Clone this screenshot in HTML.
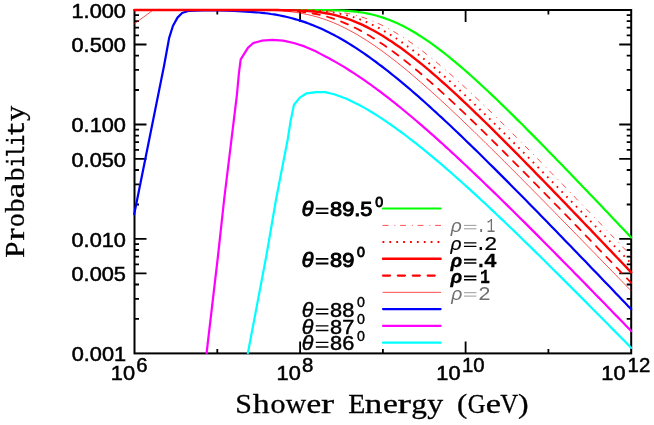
<!DOCTYPE html>
<html><head><meta charset="utf-8"><title>Probability vs Shower Energy</title>
<style>
html,body{margin:0;padding:0;background:#fff;}
body{width:654px;height:425px;overflow:hidden;font-family:"Liberation Sans",sans-serif;}
svg{display:block;will-change:transform;}
.ax{stroke:#000;stroke-width:2;fill:none;stroke-linecap:butt;}
.tk{stroke:#000;stroke-width:1.8;fill:none;}
.c{fill:none;stroke-linejoin:round;stroke-linecap:round;}
.tl{font-family:"Liberation Sans",sans-serif;font-size:20px;fill:#000;}
.lg{font-family:"Liberation Sans",sans-serif;font-weight:bold;font-size:18.5px;fill:#000;}
.mono{font-family:"Liberation Mono",monospace;fill:#000;}
</style></head><body>
<svg width="654" height="425" viewBox="0 0 654 425">
<rect x="0" y="0" width="654" height="425" fill="#fff"/>

<rect class="ax" x="134.5" y="10.0" width="496.7" height="343.4"/>
<path class="tk" d="M217.3,353.4 v-4.5 M217.3,10.0 v4.5 M300.1,353.4 v-12 M300.1,10.0 v12 M382.9,353.4 v-4.5 M382.9,10.0 v4.5 M465.6,353.4 v-12 M465.6,10.0 v12 M548.4,353.4 v-4.5 M548.4,10.0 v4.5 M134.5,15.2 h4.5 M631.2,15.2 h-4.5 M134.5,21.1 h4.5 M631.2,21.1 h-4.5 M134.5,27.7 h4.5 M631.2,27.7 h-4.5 M134.5,35.4 h4.5 M631.2,35.4 h-4.5 M134.5,44.5 h12 M631.2,44.5 h-12 M134.5,55.6 h4.5 M631.2,55.6 h-4.5 M134.5,69.9 h4.5 M631.2,69.9 h-4.5 M134.5,90.0 h4.5 M631.2,90.0 h-4.5 M134.5,124.5 h12 M631.2,124.5 h-12 M134.5,129.7 h4.5 M631.2,129.7 h-4.5 M134.5,135.6 h4.5 M631.2,135.6 h-4.5 M134.5,142.2 h4.5 M631.2,142.2 h-4.5 M134.5,149.9 h4.5 M631.2,149.9 h-4.5 M134.5,158.9 h12 M631.2,158.9 h-12 M134.5,170.0 h4.5 M631.2,170.0 h-4.5 M134.5,184.3 h4.5 M631.2,184.3 h-4.5 M134.5,204.5 h4.5 M631.2,204.5 h-4.5 M134.5,238.9 h12 M631.2,238.9 h-12 M134.5,244.2 h4.5 M631.2,244.2 h-4.5 M134.5,250.0 h4.5 M631.2,250.0 h-4.5 M134.5,256.7 h4.5 M631.2,256.7 h-4.5 M134.5,264.3 h4.5 M631.2,264.3 h-4.5 M134.5,273.4 h12 M631.2,273.4 h-12 M134.5,284.5 h4.5 M631.2,284.5 h-4.5 M134.5,298.8 h4.5 M631.2,298.8 h-4.5 M134.5,318.9 h4.5 M631.2,318.9 h-4.5"/>
<path class="c" d="M134.5,10.0 L290.0,10.0 L293.0,10.0 L296.0,10.0 L299.0,10.0 L302.0,10.0 L305.0,10.0 L308.0,10.0 L311.0,10.0 L314.0,10.0 L317.0,10.0 L320.0,10.0 L323.0,10.1 L326.0,10.1 L329.0,10.1 L332.0,10.2 L335.0,10.3 L338.0,10.4 L341.0,10.5 L344.0,10.6 L347.0,10.8 L350.0,11.1 L353.0,11.4 L356.0,11.7 L359.0,12.1 L362.0,12.5 L365.0,13.0 L368.0,13.6 L371.0,14.3 L374.0,15.0 L377.0,15.8 L380.0,16.7 L383.0,17.6 L386.0,18.7 L389.0,19.8 L392.0,21.0 L395.0,22.3 L398.0,23.6 L401.0,25.0 L404.0,26.5 L407.0,28.1 L410.0,29.8 L413.0,31.5 L416.0,33.3 L419.0,35.2 L422.0,37.1 L425.0,39.1 L428.0,41.1 L431.0,43.2 L434.0,45.4 L437.0,47.6 L440.0,49.8 L443.0,52.2 L446.0,54.5 L449.0,56.9 L452.0,59.4 L455.0,61.8 L458.0,64.4 L461.0,66.9 L464.0,69.5 L467.0,72.1 L470.0,74.8 L473.0,77.5 L476.0,80.2 L479.0,82.9 L482.0,85.7 L485.0,88.5 L488.0,91.3 L491.0,94.1 L494.0,96.9 L497.0,99.8 L500.0,102.7 L503.0,105.6 L506.0,108.5 L509.0,111.5 L512.0,114.4 L515.0,117.4 L518.0,120.4 L521.0,123.3 L524.0,126.3 L527.0,129.4 L530.0,132.4 L533.0,135.4 L536.0,138.4 L539.0,141.5 L542.0,144.5 L545.0,147.6 L548.0,150.7 L551.0,153.7 L554.0,156.8 L557.0,159.9 L560.0,163.0 L563.0,166.1 L566.0,169.2 L569.0,172.3 L572.0,175.4 L575.0,178.6 L578.0,181.7 L581.0,184.8 L584.0,187.9 L587.0,191.1 L590.0,194.2 L593.0,197.3 L596.0,200.5 L599.0,203.6 L602.0,206.8 L605.0,209.9 L608.0,213.1 L611.0,216.2 L614.0,219.4 L617.0,222.5 L620.0,225.7 L623.0,228.8 L626.0,232.0 L629.0,235.2 L631.2,237.5" stroke="#00ff00" stroke-width="2.2" />
<path class="c" d="M247.9,353.0 L266.5,255.0 L276.1,199.0 L287.6,140.0 L290.6,120.9 L294.0,104.8 L299.8,97.6 L306.7,93.3 L315.9,92.1 L325.0,92.1 L334.2,94.3 L346.5,98.7 L358.7,104.8 L365.0,108.1 L368.0,109.9 L371.0,111.7 L374.0,113.5 L377.0,115.4 L380.0,117.4 L383.0,119.3 L386.0,121.3 L389.0,123.4 L392.0,125.5 L395.0,127.6 L398.0,129.8 L401.0,132.0 L404.0,134.2 L407.0,136.5 L410.0,138.8 L413.0,141.1 L416.0,143.4 L419.0,145.8 L422.0,148.2 L425.0,150.6 L428.0,153.1 L431.0,155.6 L434.0,158.1 L437.0,160.6 L440.0,163.1 L443.0,165.7 L446.0,168.3 L449.0,170.9 L452.0,173.5 L455.0,176.2 L458.0,178.8 L461.0,181.5 L464.0,184.2 L467.0,186.9 L470.0,189.6 L473.0,192.4 L476.0,195.1 L479.0,197.9 L482.0,200.7 L485.0,203.4 L488.0,206.2 L491.0,209.1 L494.0,211.9 L497.0,214.7 L500.0,217.6 L503.0,220.4 L506.0,223.3 L509.0,226.2 L512.0,229.0 L515.0,231.9 L518.0,234.8 L521.0,237.7 L524.0,240.7 L527.0,243.6 L530.0,246.5 L533.0,249.4 L536.0,252.4 L539.0,255.3 L542.0,258.3 L545.0,261.2 L548.0,264.2 L551.0,267.2 L554.0,270.2 L557.0,273.1 L560.0,276.1 L563.0,279.1 L566.0,282.1 L569.0,285.1 L572.0,288.1 L575.0,291.1 L578.0,294.1 L581.0,297.1 L584.0,300.1 L587.0,303.1 L590.0,306.2 L593.0,309.2 L596.0,312.2 L599.0,315.2 L602.0,318.3 L605.0,321.3 L608.0,324.3 L611.0,327.4 L614.0,330.4 L617.0,333.5 L620.0,336.5 L623.0,339.5 L626.0,342.6 L629.0,345.6 L631.2,347.9" stroke="#00ffff" stroke-width="2.2" />
<path class="c" d="M206.6,353.0 L218.1,255.0 L224.2,199.0 L236.9,95.0 L238.9,73.4 L240.7,59.4 L247.9,47.9 L253.3,43.0 L261.7,40.7 L272.4,39.8 L283.1,40.6 L293.8,43.0 L304.5,46.4 L315.2,51.0 L320.0,53.6 L326.0,56.8 L329.0,58.3 L332.0,60.0 L335.0,61.6 L338.0,63.4 L341.0,65.1 L344.0,66.9 L347.0,68.8 L350.0,70.7 L353.0,72.6 L356.0,74.6 L359.0,76.6 L362.0,78.6 L365.0,80.7 L368.0,82.8 L371.0,84.9 L374.0,87.1 L377.0,89.3 L380.0,91.5 L383.0,93.8 L386.0,96.1 L389.0,98.4 L392.0,100.8 L395.0,103.2 L398.0,105.6 L401.0,108.0 L404.0,110.5 L407.0,113.0 L410.0,115.5 L413.0,118.0 L416.0,120.5 L419.0,123.1 L422.0,125.7 L425.0,128.3 L428.0,130.9 L431.0,133.6 L434.0,136.2 L437.0,138.9 L440.0,141.6 L443.0,144.3 L446.0,147.1 L449.0,149.8 L452.0,152.6 L455.0,155.3 L458.0,158.1 L461.0,160.9 L464.0,163.7 L467.0,166.5 L470.0,169.4 L473.0,172.2 L476.0,175.1 L479.0,177.9 L482.0,180.8 L485.0,183.7 L488.0,186.6 L491.0,189.5 L494.0,192.4 L497.0,195.3 L500.0,198.3 L503.0,201.2 L506.0,204.1 L509.0,207.1 L512.0,210.0 L515.0,213.0 L518.0,216.0 L521.0,219.0 L524.0,221.9 L527.0,224.9 L530.0,227.9 L533.0,230.9 L536.0,233.9 L539.0,236.9 L542.0,240.0 L545.0,243.0 L548.0,246.0 L551.0,249.0 L554.0,252.1 L557.0,255.1 L560.0,258.1 L563.0,261.2 L566.0,264.2 L569.0,267.3 L572.0,270.3 L575.0,273.4 L578.0,276.4 L581.0,279.5 L584.0,282.6 L587.0,285.6 L590.0,288.7 L593.0,291.8 L596.0,294.9 L599.0,297.9 L602.0,301.0 L605.0,304.1 L608.0,307.2 L611.0,310.3 L614.0,313.4 L617.0,316.4 L620.0,319.5 L623.0,322.6 L626.0,325.7 L629.0,328.8 L631.2,331.1" stroke="#ff00ff" stroke-width="2.2" />
<path class="c" d="M134.2,214.2 L164.2,65.0 L169.1,38.2 L172.9,26.0 L177.5,17.6 L182.1,13.0 L188.2,11.0 L203.5,10.4 L218.8,10.4 L234.1,11.0 L250.0,11.9 L256.0,12.3 L259.0,12.5 L262.0,12.8 L265.0,13.2 L268.0,13.5 L271.0,14.0 L274.0,14.4 L277.0,14.9 L280.0,15.5 L283.0,16.1 L286.0,16.8 L289.0,17.5 L292.0,18.2 L295.0,19.1 L298.0,20.0 L301.0,20.9 L304.0,21.9 L307.0,22.9 L310.0,24.1 L313.0,25.2 L316.0,26.5 L319.0,27.7 L322.0,29.1 L325.0,30.5 L328.0,31.9 L331.0,33.5 L334.0,35.0 L337.0,36.6 L340.0,38.3 L343.0,40.0 L346.0,41.8 L349.0,43.6 L352.0,45.5 L355.0,47.4 L358.0,49.4 L361.0,51.4 L364.0,53.4 L367.0,55.5 L370.0,57.6 L373.0,59.8 L376.0,62.0 L379.0,64.3 L382.0,66.5 L385.0,68.8 L388.0,71.2 L391.0,73.6 L394.0,76.0 L397.0,78.4 L400.0,80.9 L403.0,83.4 L406.0,85.9 L409.0,88.4 L412.0,91.0 L415.0,93.6 L418.0,96.2 L421.0,98.9 L424.0,101.5 L427.0,104.2 L430.0,106.9 L433.0,109.7 L436.0,112.4 L439.0,115.2 L442.0,117.9 L445.0,120.7 L448.0,123.5 L451.0,126.3 L454.0,129.2 L457.0,132.0 L460.0,134.9 L463.0,137.8 L466.0,140.7 L469.0,143.6 L472.0,146.5 L475.0,149.4 L478.0,152.3 L481.0,155.3 L484.0,158.2 L487.0,161.2 L490.0,164.2 L493.0,167.1 L496.0,170.1 L499.0,173.1 L502.0,176.1 L505.0,179.1 L508.0,182.1 L511.0,185.2 L514.0,188.2 L517.0,191.2 L520.0,194.3 L523.0,197.3 L526.0,200.3 L529.0,203.4 L532.0,206.5 L535.0,209.5 L538.0,212.6 L541.0,215.7 L544.0,218.7 L547.0,221.8 L550.0,224.9 L553.0,228.0 L556.0,231.1 L559.0,234.2 L562.0,237.3 L565.0,240.4 L568.0,243.5 L571.0,246.6 L574.0,249.7 L577.0,252.8 L580.0,255.9 L583.0,259.0 L586.0,262.1 L589.0,265.3 L592.0,268.4 L595.0,271.5 L598.0,274.6 L601.0,277.7 L604.0,280.9 L607.0,284.0 L610.0,287.1 L613.0,290.3 L616.0,293.4 L619.0,296.5 L622.0,299.7 L625.0,302.8 L628.0,306.0 L631.0,309.1 L631.2,309.3" stroke="#0000ff" stroke-width="2.2" />
<path class="c" d="M134.5,23.7 L153.2,10.0 L240.0,10.0 L243.0,10.0 L246.0,10.0 L249.0,10.0 L252.0,10.1 L255.0,10.1 L258.0,10.1 L261.0,10.1 L264.0,10.2 L267.0,10.3 L270.0,10.4 L273.0,10.5 L276.0,10.6 L279.0,10.8 L282.0,11.0 L285.0,11.2 L288.0,11.5 L291.0,11.8 L294.0,12.2 L297.0,12.6 L300.0,13.1 L303.0,13.6 L306.0,14.2 L309.0,14.9 L312.0,15.6 L315.0,16.4 L318.0,17.2 L321.0,18.2 L324.0,19.1 L327.0,20.2 L330.0,21.3 L333.0,22.5 L336.0,23.8 L339.0,25.1 L342.0,26.6 L345.0,28.0 L348.0,29.6 L351.0,31.2 L354.0,32.8 L357.0,34.5 L360.0,36.3 L363.0,38.2 L366.0,40.0 L369.0,42.0 L372.0,44.0 L375.0,46.0 L378.0,48.1 L381.0,50.3 L384.0,52.4 L387.0,54.7 L390.0,56.9 L393.0,59.3 L396.0,61.6 L399.0,64.0 L402.0,66.4 L405.0,68.8 L408.0,71.3 L411.0,73.8 L414.0,76.4 L417.0,79.0 L420.0,81.6 L423.0,84.2 L426.0,86.8 L429.0,89.5 L432.0,92.2 L435.0,94.9 L438.0,97.6 L441.0,100.4 L444.0,103.1 L447.0,105.9 L450.0,108.7 L453.0,111.5 L456.0,114.4 L459.0,117.2 L462.0,120.1 L465.0,123.0 L468.0,125.8 L471.0,128.7 L474.0,131.6 L477.0,134.6 L480.0,137.5 L483.0,140.4 L486.0,143.4 L489.0,146.3 L492.0,149.3 L495.0,152.2 L498.0,155.2 L501.0,158.2 L504.0,161.2 L507.0,164.2 L510.0,167.2 L513.0,170.2 L516.0,173.2 L519.0,176.2 L522.0,179.2 L525.0,182.3 L528.0,185.3 L531.0,188.3 L534.0,191.4 L537.0,194.4 L540.0,197.4 L543.0,200.5 L546.0,203.5 L549.0,206.6 L552.0,209.6 L555.0,212.7 L558.0,215.8 L561.0,218.8 L564.0,221.9 L567.0,225.0 L570.0,228.0 L573.0,231.1 L576.0,234.2 L579.0,237.2 L582.0,240.3 L585.0,243.4 L588.0,246.5 L591.0,249.6 L594.0,252.6 L597.0,255.7 L600.0,258.8 L603.0,261.9 L606.0,265.0 L609.0,268.1 L612.0,271.2 L615.0,274.2 L618.0,277.3 L621.0,280.4 L624.0,283.5 L627.0,286.6 L630.0,289.7 L631.2,290.9" stroke="#ff0000" stroke-width="0.7" />
<path class="c" d="M134.5,10.0 L275.0,10.0 L278.0,10.0 L281.0,10.0 L284.0,10.0 L287.0,10.0 L290.0,10.0 L293.0,10.0 L296.0,10.0 L299.0,10.0 L302.0,10.1 L305.0,10.1 L308.0,10.1 L311.0,10.2 L314.0,10.2 L317.0,10.3 L320.0,10.4 L323.0,10.6 L326.0,10.7 L329.0,11.0 L332.0,11.2 L335.0,11.5 L338.0,11.9 L341.0,12.3 L344.0,12.8 L347.0,13.3 L350.0,13.9 L353.0,14.6 L356.0,15.4 L359.0,16.2 L362.0,17.1 L365.0,18.1 L368.0,19.2 L371.0,20.3 L374.0,21.6 L377.0,22.9 L380.0,24.3 L383.0,25.7 L386.0,27.3 L389.0,28.9 L392.0,30.5 L395.0,32.3 L398.0,34.1 L401.0,36.0 L404.0,37.9 L407.0,39.9 L410.0,42.0 L413.0,44.1 L416.0,46.2 L419.0,48.5 L422.0,50.7 L425.0,53.0 L428.0,55.4 L431.0,57.8 L434.0,60.2 L437.0,62.7 L440.0,65.2 L443.0,67.8 L446.0,70.4 L449.0,73.0 L452.0,75.6 L455.0,78.3 L458.0,81.0 L461.0,83.7 L464.0,86.5 L467.0,89.2 L470.0,92.0 L473.0,94.8 L476.0,97.7 L479.0,100.5 L482.0,103.4 L485.0,106.3 L488.0,109.2 L491.0,112.1 L494.0,115.0 L497.0,118.0 L500.0,120.9 L503.0,123.9 L506.0,126.9 L509.0,129.9 L512.0,132.8 L515.0,135.9 L518.0,138.9 L521.0,141.9 L524.0,144.9 L527.0,148.0 L530.0,151.0 L533.0,154.0 L536.0,157.1 L539.0,160.2 L542.0,163.2 L545.0,166.3 L548.0,169.4 L551.0,172.5 L554.0,175.6 L557.0,178.6 L560.0,181.7 L563.0,184.8 L566.0,187.9 L569.0,191.0 L572.0,194.1 L575.0,197.3 L578.0,200.4 L581.0,203.5 L584.0,206.6 L587.0,209.7 L590.0,212.8 L593.0,216.0 L596.0,219.1 L599.0,222.2 L602.0,225.3 L605.0,228.5 L608.0,231.6 L611.0,234.7 L614.0,237.9 L617.0,241.0 L620.0,244.1 L623.0,247.3 L626.0,250.4 L629.0,253.6 L631.2,255.9" stroke="#ff0000" stroke-width="0.7" stroke-dasharray="5.9 5.9 0.9 4.807" style="stroke-linecap:butt"/>
<path class="c" d="M134.5,10.0 L270.0,10.0 L273.0,10.0 L276.0,10.0 L279.0,10.0 L282.0,10.0 L285.0,10.0 L288.0,10.0 L291.0,10.0 L294.0,10.1 L297.0,10.1 L300.0,10.1 L303.0,10.2 L306.0,10.2 L309.0,10.3 L312.0,10.5 L315.0,10.6 L318.0,10.8 L321.0,11.0 L324.0,11.3 L327.0,11.6 L330.0,12.0 L333.0,12.4 L336.0,12.9 L339.0,13.5 L342.0,14.1 L345.0,14.8 L348.0,15.6 L351.0,16.4 L354.0,17.3 L357.0,18.4 L360.0,19.4 L363.0,20.6 L366.0,21.9 L369.0,23.2 L372.0,24.6 L375.0,26.1 L378.0,27.6 L381.0,29.2 L384.0,30.9 L387.0,32.7 L390.0,34.5 L393.0,36.4 L396.0,38.3 L399.0,40.3 L402.0,42.4 L405.0,44.5 L408.0,46.7 L411.0,48.9 L414.0,51.2 L417.0,53.5 L420.0,55.9 L423.0,58.3 L426.0,60.7 L429.0,63.2 L432.0,65.7 L435.0,68.2 L438.0,70.8 L441.0,73.4 L444.0,76.0 L447.0,78.7 L450.0,81.4 L453.0,84.1 L456.0,86.9 L459.0,89.6 L462.0,92.4 L465.0,95.2 L468.0,98.0 L471.0,100.9 L474.0,103.7 L477.0,106.6 L480.0,109.5 L483.0,112.4 L486.0,115.3 L489.0,118.2 L492.0,121.1 L495.0,124.1 L498.0,127.1 L501.0,130.0 L504.0,133.0 L507.0,136.0 L510.0,139.0 L513.0,142.0 L516.0,145.0 L519.0,148.0 L522.0,151.0 L525.0,154.1 L528.0,157.1 L531.0,160.1 L534.0,163.2 L537.0,166.2 L540.0,169.3 L543.0,172.4 L546.0,175.4 L549.0,178.5 L552.0,181.6 L555.0,184.6 L558.0,187.7 L561.0,190.8 L564.0,193.9 L567.0,197.0 L570.0,200.0 L573.0,203.1 L576.0,206.2 L579.0,209.3 L582.0,212.4 L585.0,215.5 L588.0,218.6 L591.0,221.7 L594.0,224.8 L597.0,227.9 L600.0,231.0 L603.0,234.2 L606.0,237.3 L609.0,240.4 L612.0,243.5 L615.0,246.6 L618.0,249.7 L621.0,252.8 L624.0,255.9 L627.0,259.1 L630.0,262.2 L631.2,263.4" stroke="#ff0000" stroke-width="1.9" stroke-dasharray="1.7 5.153" stroke-dashoffset="0.29" style="stroke-linecap:butt"/>
<path class="c" d="M134.5,10.0 L250.0,10.0 L253.0,10.0 L256.0,10.0 L259.0,10.0 L262.0,10.0 L265.0,10.1 L268.0,10.1 L271.0,10.1 L274.0,10.2 L277.0,10.2 L280.0,10.3 L283.0,10.4 L286.0,10.6 L289.0,10.7 L292.0,10.9 L295.0,11.1 L298.0,11.4 L301.0,11.7 L304.0,12.1 L307.0,12.5 L310.0,12.9 L313.0,13.5 L316.0,14.0 L319.0,14.7 L322.0,15.4 L325.0,16.2 L328.0,17.0 L331.0,17.9 L334.0,18.9 L337.0,20.0 L340.0,21.1 L343.0,22.3 L346.0,23.6 L349.0,24.9 L352.0,26.3 L355.0,27.8 L358.0,29.3 L361.0,30.9 L364.0,32.6 L367.0,34.3 L370.0,36.1 L373.0,37.9 L376.0,39.8 L379.0,41.8 L382.0,43.8 L385.0,45.8 L388.0,47.9 L391.0,50.1 L394.0,52.3 L397.0,54.5 L400.0,56.8 L403.0,59.1 L406.0,61.5 L409.0,63.9 L412.0,66.3 L415.0,68.8 L418.0,71.3 L421.0,73.8 L424.0,76.4 L427.0,79.0 L430.0,81.6 L433.0,84.3 L436.0,86.9 L439.0,89.6 L442.0,92.4 L445.0,95.1 L448.0,97.8 L451.0,100.6 L454.0,103.4 L457.0,106.2 L460.0,109.1 L463.0,111.9 L466.0,114.8 L469.0,117.6 L472.0,120.5 L475.0,123.4 L478.0,126.3 L481.0,129.3 L484.0,132.2 L487.0,135.2 L490.0,138.1 L493.0,141.1 L496.0,144.0 L499.0,147.0 L502.0,150.0 L505.0,153.0 L508.0,156.0 L511.0,159.0 L514.0,162.1 L517.0,165.1 L520.0,168.1 L523.0,171.2 L526.0,174.2 L529.0,177.2 L532.0,180.3 L535.0,183.4 L538.0,186.4 L541.0,189.5 L544.0,192.6 L547.0,195.6 L550.0,198.7 L553.0,201.8 L556.0,204.9 L559.0,207.9 L562.0,211.0 L565.0,214.1 L568.0,217.2 L571.0,220.3 L574.0,223.4 L577.0,226.5 L580.0,229.6 L583.0,232.7 L586.0,235.8 L589.0,238.9 L592.0,242.0 L595.0,245.2 L598.0,248.3 L601.0,251.4 L604.0,254.5 L607.0,257.6 L610.0,260.7 L613.0,263.8 L616.0,267.0 L619.0,270.1 L622.0,273.2 L625.0,276.3 L628.0,279.5 L631.0,282.6 L631.2,282.8" stroke="#ff0000" stroke-width="1.8" stroke-dasharray="7.4 7.455"/>
<path class="c" d="M134.5,10.0 L260.0,10.0 L263.0,10.0 L266.0,10.0 L269.0,10.0 L272.0,10.0 L275.0,10.0 L278.0,10.0 L281.0,10.1 L284.0,10.1 L287.0,10.1 L290.0,10.2 L293.0,10.3 L296.0,10.4 L299.0,10.5 L302.0,10.6 L305.0,10.8 L308.0,11.0 L311.0,11.2 L314.0,11.5 L317.0,11.9 L320.0,12.3 L323.0,12.7 L326.0,13.2 L329.0,13.8 L332.0,14.4 L335.0,15.1 L338.0,15.9 L341.0,16.8 L344.0,17.7 L347.0,18.7 L350.0,19.7 L353.0,20.9 L356.0,22.1 L359.0,23.3 L362.0,24.7 L365.0,26.1 L368.0,27.6 L371.0,29.2 L374.0,30.8 L377.0,32.5 L380.0,34.2 L383.0,36.0 L386.0,37.9 L389.0,39.9 L392.0,41.8 L395.0,43.9 L398.0,46.0 L401.0,48.1 L404.0,50.3 L407.0,52.6 L410.0,54.9 L413.0,57.2 L416.0,59.6 L419.0,62.0 L422.0,64.4 L425.0,66.9 L428.0,69.4 L431.0,72.0 L434.0,74.6 L437.0,77.2 L440.0,79.8 L443.0,82.5 L446.0,85.2 L449.0,87.9 L452.0,90.6 L455.0,93.4 L458.0,96.2 L461.0,99.0 L464.0,101.8 L467.0,104.6 L470.0,107.5 L473.0,110.4 L476.0,113.3 L479.0,116.2 L482.0,119.1 L485.0,122.0 L488.0,124.9 L491.0,127.9 L494.0,130.9 L497.0,133.8 L500.0,136.8 L503.0,139.8 L506.0,142.8 L509.0,145.8 L512.0,148.9 L515.0,151.9 L518.0,154.9 L521.0,158.0 L524.0,161.0 L527.0,164.1 L530.0,167.1 L533.0,170.2 L536.0,173.3 L539.0,176.4 L542.0,179.4 L545.0,182.5 L548.0,185.6 L551.0,188.7 L554.0,191.8 L557.0,194.9 L560.0,198.0 L563.0,201.1 L566.0,204.2 L569.0,207.4 L572.0,210.5 L575.0,213.6 L578.0,216.7 L581.0,219.9 L584.0,223.0 L587.0,226.1 L590.0,229.2 L593.0,232.4 L596.0,235.5 L599.0,238.6 L602.0,241.8 L605.0,244.9 L608.0,248.1 L611.0,251.2 L614.0,254.3 L617.0,257.5 L620.0,260.6 L623.0,263.8 L626.0,266.9 L629.0,270.1 L631.2,272.4" stroke="#ff0000" stroke-width="2.4" />
<text font-family="Liberation Sans" font-size="19.8px" fill="#000" stroke="#000" stroke-width="0.5" transform="translate(71.48 17.90) scale(1.1 1.0)">1.000</text>
<text font-family="Liberation Sans" font-size="19.8px" fill="#000" stroke="#000" stroke-width="0.5" transform="translate(71.48 52.36) scale(1.1 1.0)">0.500</text>
<text font-family="Liberation Sans" font-size="19.8px" fill="#000" stroke="#000" stroke-width="0.5" transform="translate(71.48 132.37) scale(1.1 1.0)">0.100</text>
<text font-family="Liberation Sans" font-size="19.8px" fill="#000" stroke="#000" stroke-width="0.5" transform="translate(71.48 166.82) scale(1.1 1.0)">0.050</text>
<text font-family="Liberation Sans" font-size="19.8px" fill="#000" stroke="#000" stroke-width="0.5" transform="translate(71.48 246.83) scale(1.1 1.0)">0.010</text>
<text font-family="Liberation Sans" font-size="19.8px" fill="#000" stroke="#000" stroke-width="0.5" transform="translate(71.48 281.29) scale(1.1 1.0)">0.005</text>
<text font-family="Liberation Sans" font-size="19.8px" fill="#000" stroke="#000" stroke-width="0.5" transform="translate(71.70 361.30) scale(1.1 1.0)">0.001</text>
<text font-family="Liberation Sans" font-size="19.8px" fill="#000" stroke="#000" stroke-width="0.5" transform="translate(110.86 380.00) scale(1.1 1.0)">10</text>
<text font-family="Liberation Sans" font-size="19.8px" font-style="normal" font-weight="normal" fill="#000" stroke="#000" stroke-width="0.5" transform="translate(136.28 372.30) scale(1.03 1.0)">6</text>
<text font-family="Liberation Sans" font-size="19.8px" fill="#000" stroke="#000" stroke-width="0.5" transform="translate(276.56 380.00) scale(1.1 1.0)">10</text>
<text font-family="Liberation Sans" font-size="19.8px" font-style="normal" font-weight="normal" fill="#000" stroke="#000" stroke-width="0.5" transform="translate(301.88 372.30) scale(1.03 1.0)">8</text>
<text font-family="Liberation Sans" font-size="19.8px" fill="#000" stroke="#000" stroke-width="0.5" transform="translate(436.36 380.00) scale(1.1 1.0)">10</text>
<text font-family="Liberation Sans" font-size="19.8px" font-style="normal" font-weight="normal" fill="#000" stroke="#000" stroke-width="0.5" transform="translate(461.97 372.30) scale(1.03 1.0)">10</text>
<text font-family="Liberation Sans" font-size="19.8px" fill="#000" stroke="#000" stroke-width="0.5" transform="translate(601.36 380.00) scale(1.1 1.0)">10</text>
<text font-family="Liberation Sans" font-size="19.8px" font-style="normal" font-weight="normal" fill="#000" stroke="#000" stroke-width="0.5" transform="translate(627.57 372.30) scale(1.03 1.0)">12</text>
<text font-family="Liberation Serif" font-size="28.2px" font-weight="normal" fill="#000" stroke="#000" stroke-width="0.3" transform="translate(235.30 413.00) scale(1.064 1)">S</text>
<text font-family="Liberation Serif" font-size="28.2px" font-weight="normal" fill="#000" stroke="#000" stroke-width="0.3" transform="translate(252.80 413.00) scale(1.194 1)">h</text>
<text font-family="Liberation Serif" font-size="28.2px" font-weight="normal" fill="#000" stroke="#000" stroke-width="0.3" transform="translate(270.50 413.00) scale(1.064 1)">o</text>
<text font-family="Liberation Serif" font-size="28.2px" font-weight="normal" fill="#000" stroke="#000" stroke-width="0.3" transform="translate(285.80 413.00) scale(1.000 1)">w</text>
<text font-family="Liberation Serif" font-size="28.2px" font-weight="normal" fill="#000" stroke="#000" stroke-width="0.3" transform="translate(306.61 413.00) scale(1.176 1)">e</text>
<text font-family="Liberation Serif" font-size="28.2px" font-weight="normal" fill="#000" stroke="#000" stroke-width="0.3" transform="translate(321.01 413.00) scale(1.396 1)">r</text>
<text font-family="Liberation Serif" font-size="28.2px" font-weight="normal" fill="#000" stroke="#000" stroke-width="0.3" transform="translate(348.34 413.00) scale(0.993 1)">E</text>
<text font-family="Liberation Serif" font-size="28.2px" font-weight="normal" fill="#000" stroke="#000" stroke-width="0.3" transform="translate(364.80 413.00) scale(1.245 1)">n</text>
<text font-family="Liberation Serif" font-size="28.2px" font-weight="normal" fill="#000" stroke="#000" stroke-width="0.3" transform="translate(382.89 413.00) scale(1.194 1)">e</text>
<text font-family="Liberation Serif" font-size="28.2px" font-weight="normal" fill="#000" stroke="#000" stroke-width="0.3" transform="translate(397.39 413.00) scale(1.441 1)">r</text>
<text font-family="Liberation Serif" font-size="28.2px" font-weight="normal" fill="#000" stroke="#000" stroke-width="0.3" transform="translate(411.35 413.00) scale(1.111 1)">g</text>
<text font-family="Liberation Serif" font-size="28.2px" font-weight="normal" fill="#000" stroke="#000" stroke-width="0.3" transform="translate(427.28 413.00) scale(1.129 1)">y</text>
<text font-family="Liberation Serif" font-size="28.2px" font-weight="normal" fill="#000" stroke="#000" stroke-width="0.3" transform="translate(456.97 413.00) scale(1.090 1)">(</text>
<text font-family="Liberation Serif" font-size="28.2px" font-weight="normal" fill="#000" stroke="#000" stroke-width="0.3" transform="translate(467.72 413.00) scale(0.870 1)">G</text>
<text font-family="Liberation Serif" font-size="28.2px" font-weight="normal" fill="#000" stroke="#000" stroke-width="0.3" transform="translate(485.87 413.00) scale(1.222 1)">e</text>
<text font-family="Liberation Serif" font-size="28.2px" font-weight="normal" fill="#000" stroke="#000" stroke-width="0.3" transform="translate(500.35 413.00) scale(0.884 1)">V</text>
<text font-family="Liberation Serif" font-size="28.2px" font-weight="normal" fill="#000" stroke="#000" stroke-width="0.3" transform="translate(517.94 413.00) scale(1.132 1)">)</text>
<g transform="translate(23.8 0) rotate(-90)">
<text font-family="Liberation Serif" font-size="28.2px" font-weight="normal" fill="#000" stroke="#000" stroke-width="0.3" transform="translate(-257.78 0.00) scale(1.028 1)">P</text>
<text font-family="Liberation Serif" font-size="28.2px" font-weight="normal" fill="#000" stroke="#000" stroke-width="0.3" transform="translate(-240.52 0.00) scale(1.281 1)">r</text>
<text font-family="Liberation Serif" font-size="28.2px" font-weight="normal" fill="#000" stroke="#000" stroke-width="0.3" transform="translate(-226.79 0.00) scale(0.935 1)">o</text>
<text font-family="Liberation Serif" font-size="28.2px" font-weight="normal" fill="#000" stroke="#000" stroke-width="0.3" transform="translate(-212.30 0.00) scale(0.973 1)">b</text>
<text font-family="Liberation Serif" font-size="28.2px" font-weight="normal" fill="#000" stroke="#000" stroke-width="0.3" transform="translate(-198.15 0.00) scale(1.237 1)">a</text>
<text font-family="Liberation Serif" font-size="28.2px" font-weight="normal" fill="#000" stroke="#000" stroke-width="0.3" transform="translate(-180.90 0.00) scale(0.943 1)">b</text>
<text font-family="Liberation Mono" font-size="24.5px" font-weight="normal" fill="#000" stroke="#000" stroke-width="0.35" transform="translate(-167.33 0.00) scale(0.766 1)">i</text>
<text font-family="Liberation Mono" font-size="24.5px" font-weight="normal" fill="#000" stroke="#000" stroke-width="0.35" transform="translate(-158.35 0.00) scale(0.865 1)">l</text>
<text font-family="Liberation Mono" font-size="24.5px" font-weight="normal" fill="#000" stroke="#000" stroke-width="0.35" transform="translate(-145.91 0.00) scale(0.758 1)">i</text>
<text font-family="Liberation Mono" font-size="24.5px" font-weight="normal" fill="#000" stroke="#000" stroke-width="0.35" transform="translate(-136.86 0.00) scale(1.115 1)">t</text>
<text font-family="Liberation Serif" font-size="28.2px" font-weight="normal" fill="#000" stroke="#000" stroke-width="0.3" transform="translate(-121.11 0.00) scale(1.086 1)">y</text>
</g>
<path class="c" d="M383,208.5 H440.6" stroke="#00ff00" stroke-width="2.2" />
<path class="c" d="M382.6,225.4 H441" stroke="#ff0000" stroke-width="0.7" stroke-dasharray="5.9 5.9 0.9 4.8" style="stroke-linecap:butt"/>
<path class="c" d="M382.5,241.95 H441" stroke="#ff0000" stroke-width="1.9" stroke-dasharray="1.8 5.08" style="stroke-linecap:butt"/>
<path class="c" d="M383,258.8 H440.6" stroke="#ff0000" stroke-width="2.4" />
<path class="c" d="M383,275.57 H440.6" stroke="#ff0000" stroke-width="2.3" stroke-dasharray="7.0 7.9"/>
<path class="c" d="M383,292.33 H440.6" stroke="#ff0000" stroke-width="0.7" />
<path class="c" d="M383,309.1 H440.6" stroke="#0000ff" stroke-width="2.2" />
<path class="c" d="M383,325.87 H440.6" stroke="#ff00ff" stroke-width="2.2" />
<path class="c" d="M383,342.64 H440.6" stroke="#00ffff" stroke-width="2.2" />
<text font-family="Liberation Sans" font-size="19.5px" font-style="italic" font-weight="normal" fill="#000" stroke="#000" stroke-width="0.95" transform="translate(301.74 216.30) scale(1.1 1.0)">θ</text>
<path d="M315.8,208.6 H328.4 M315.8,213.2 H328.4" stroke="#000" stroke-width="1.8" fill="none"/>
<text font-family="Liberation Sans" font-size="19.8px" font-style="normal" font-weight="normal" fill="#000" stroke="#000" stroke-width="0.95" transform="translate(330.03 216.30) scale(1.1 1.0)">89.5</text>
<text font-family="Liberation Sans" font-size="14.2px" font-style="normal" font-weight="normal" fill="#000" stroke="#000" stroke-width="0.855" transform="translate(375.27 206.70) scale(1.0 1.0)">0</text>
<text font-family="Liberation Sans" font-size="19.5px" font-style="italic" font-weight="normal" fill="#000" stroke="#000" stroke-width="0.95" transform="translate(301.74 266.60) scale(1.1 1.0)">θ</text>
<path d="M315.8,258.9 H328.4 M315.8,263.5 H328.4" stroke="#000" stroke-width="1.8" fill="none"/>
<text font-family="Liberation Sans" font-size="19.8px" font-style="normal" font-weight="normal" fill="#000" stroke="#000" stroke-width="0.95" transform="translate(330.03 266.60) scale(1.1 1.0)">89</text>
<text font-family="Liberation Sans" font-size="14.2px" font-style="normal" font-weight="normal" fill="#000" stroke="#000" stroke-width="0.855" transform="translate(356.97 257.00) scale(1.0 1.0)">0</text>
<text font-family="Liberation Sans" font-size="19.5px" font-style="italic" font-weight="normal" fill="#000" stroke="#000" stroke-width="0.45" transform="translate(301.74 316.90) scale(1.1 1.0)">θ</text>
<path d="M315.8,309.2 H328.4 M315.8,313.8 H328.4" stroke="#000" stroke-width="1.4" fill="none"/>
<text font-family="Liberation Sans" font-size="19.8px" font-style="normal" font-weight="normal" fill="#000" stroke="#000" stroke-width="0.45" transform="translate(330.03 316.90) scale(1.1 1.0)">88</text>
<text font-family="Liberation Sans" font-size="14.2px" font-style="normal" font-weight="normal" fill="#000" stroke="#000" stroke-width="0.405" transform="translate(356.97 307.30) scale(1.0 1.0)">0</text>
<text font-family="Liberation Sans" font-size="19.5px" font-style="italic" font-weight="normal" fill="#000" stroke="#000" stroke-width="0.45" transform="translate(301.74 333.60) scale(1.1 1.0)">θ</text>
<path d="M315.8,325.9 H328.4 M315.8,330.5 H328.4" stroke="#000" stroke-width="1.4" fill="none"/>
<text font-family="Liberation Sans" font-size="19.8px" font-style="normal" font-weight="normal" fill="#000" stroke="#000" stroke-width="0.45" transform="translate(330.03 333.60) scale(1.1 1.0)">87</text>
<text font-family="Liberation Sans" font-size="14.2px" font-style="normal" font-weight="normal" fill="#000" stroke="#000" stroke-width="0.405" transform="translate(356.97 324.00) scale(1.0 1.0)">0</text>
<text font-family="Liberation Sans" font-size="19.5px" font-style="italic" font-weight="normal" fill="#000" stroke="#000" stroke-width="0.45" transform="translate(301.74 350.10) scale(1.1 1.0)">θ</text>
<path d="M315.8,342.4 H328.4 M315.8,347.0 H328.4" stroke="#000" stroke-width="1.4" fill="none"/>
<text font-family="Liberation Sans" font-size="19.8px" font-style="normal" font-weight="normal" fill="#000" stroke="#000" stroke-width="0.45" transform="translate(330.03 350.10) scale(1.1 1.0)">86</text>
<text font-family="Liberation Sans" font-size="14.2px" font-style="normal" font-weight="normal" fill="#000" stroke="#000" stroke-width="0.405" transform="translate(356.97 340.50) scale(1.0 1.0)">0</text>
<text font-family="Liberation Sans" font-size="17.5px" font-style="italic" font-weight="normal" fill="#707070" transform="translate(450.78 232.30) scale(1.1 1.0)">ρ</text>
<path d="M464.0,225.4 H476.4 M464.0,228.8 H476.4" stroke="#707070" stroke-width="0.7" fill="none"/>
<text font-family="Liberation Mono" font-size="19.5px" font-style="normal" font-weight="normal" fill="#707070" transform="translate(476.46 232.30) scale(0.8 1.0)">.</text>
<text font-family="Liberation Mono" font-size="19.5px" font-style="normal" font-weight="normal" fill="#707070" transform="translate(486.38 232.30) scale(0.75 1.0)">1</text>
<text font-family="Liberation Sans" font-size="17.5px" font-style="italic" font-weight="normal" fill="#000" stroke="#000" stroke-width="0.2" transform="translate(450.38 249.80) scale(1.1 1.0)">ρ</text>
<path d="M464.0,242.9 H476.4 M464.0,246.3 H476.4" stroke="#000" stroke-width="1.3" fill="none"/>
<text font-family="Liberation Mono" font-size="19.5px" font-style="normal" font-weight="normal" fill="#000" stroke="#000" stroke-width="0.2" transform="translate(475.12 249.80) scale(1.0 1.0)">.</text>
<text font-family="Liberation Mono" font-size="19.5px" font-style="normal" font-weight="normal" fill="#000" stroke="#000" stroke-width="0.2" transform="translate(484.03 249.80) scale(1.15 1.0)">2</text>
<text font-family="Liberation Sans" font-size="17.5px" font-style="italic" font-weight="bold" fill="#000" stroke="#000" stroke-width="0.3" transform="translate(450.38 266.50) scale(1.1 1.0)">ρ</text>
<path d="M464.0,259.6 H476.4 M464.0,263.0 H476.4" stroke="#000" stroke-width="1.6" fill="none"/>
<text font-family="Liberation Mono" font-size="19.5px" font-style="normal" font-weight="bold" fill="#000" stroke="#000" stroke-width="0.3" transform="translate(475.11 266.50) scale(1.0 1.0)">.</text>
<text font-family="Liberation Mono" font-size="19.5px" font-style="normal" font-weight="bold" fill="#000" stroke="#000" stroke-width="0.3" transform="translate(483.96 266.50) scale(1.1 1.0)">4</text>
<text font-family="Liberation Sans" font-size="17.5px" font-style="italic" font-weight="bold" fill="#000" stroke="#000" stroke-width="0.3" transform="translate(450.38 283.30) scale(1.1 1.0)">ρ</text>
<path d="M464.0,276.4 H476.4 M464.0,279.8 H476.4" stroke="#000" stroke-width="1.6" fill="none"/>
<text font-family="Liberation Mono" font-size="19.5px" font-style="normal" font-weight="bold" fill="#000" stroke="#000" stroke-width="0.3" transform="translate(480.01 283.30) scale(0.85 1.0)">1</text>
<text font-family="Liberation Sans" font-size="17.5px" font-style="italic" font-weight="normal" fill="#707070" transform="translate(451.18 299.60) scale(1.1 1.0)">ρ</text>
<path d="M464.0,292.7 H476.4 M464.0,296.1 H476.4" stroke="#707070" stroke-width="0.7" fill="none"/>
<text font-family="Liberation Mono" font-size="19.5px" font-style="normal" font-weight="normal" fill="#707070" transform="translate(477.90 299.60) scale(1.1 1.0)">2</text>
</svg></body></html>
